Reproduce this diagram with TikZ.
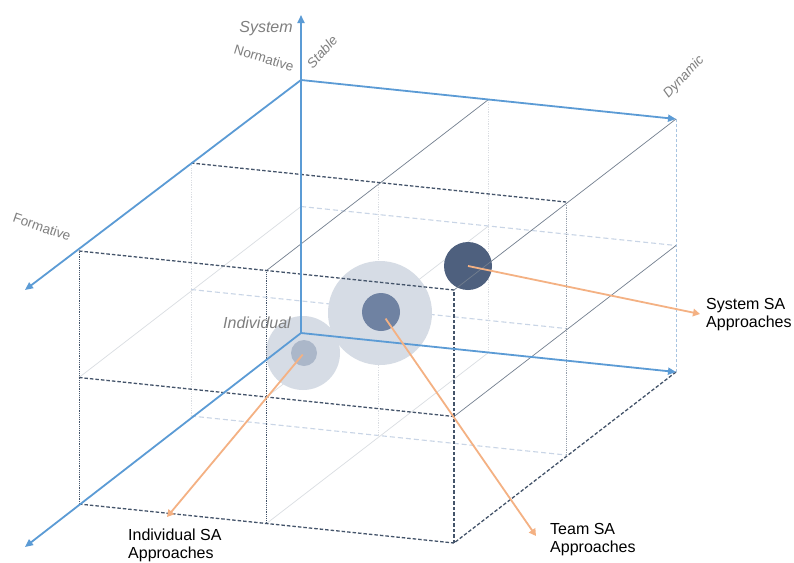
\documentclass[tikz,border=0pt]{standalone}
\usepackage{fontspec}
\setmainfont{Liberation Sans}
\usepackage{xcolor}
\usetikzlibrary{calc}
\usetikzlibrary{arrows.meta}
\definecolor{achsblau}{HTML}{5B9BD5}
\definecolor{dunkel}{HTML}{44546A}
\definecolor{orange}{HTML}{F4B183}
\definecolor{hof}{HTML}{D6DCE5}
\definecolor{hell}{HTML}{DADDE2}
\definecolor{hellblau}{HTML}{C9D5E6}
\definecolor{grau}{HTML}{7F7F7F}
\definecolor{kreisA}{HTML}{ABB7C9}
\definecolor{kreisB}{HTML}{6F82A2}
\definecolor{kreisC}{HTML}{4E607E}
\tikzset{
  Achse/.style={achsblau,line width=1.8pt,-{Triangle[length=8pt,width=7pt]}}, % für Achsen
  Kante/.style={dunkel,line width=1.3pt,dash pattern=on 3.5pt off 2pt}, % für vordere Kanten
  Punktkante/.style={dunkel,line width=1pt,dash pattern=on 1.2pt off 1pt}, % für vordere Senkrechte
  Diagonale/.style={dunkel!75,line width=0.7pt}, % für Tiefenlinien
  HellLinie/.style={hell,line width=0.7pt}, % für hintere Tiefenlinien
  HellStrich/.style={hellblau,line width=1.1pt,dash pattern=on 5pt off 3pt}, % für hintere Waagrechte
  HellPunkt/.style={hell,line width=0.8pt,dash pattern=on 1.2pt off 1.2pt}, % für hintere Senkrechte
  OPfeil/.style={orange,line width=1.8pt,-{Triangle[length=7pt,width=7.5pt]}}, % für Zuordnungspfeile
  Achsentext/.style={grau,font=\fontsize{13.5}{15}\selectfont},
  Titeltext/.style={grau,font=\fontsize{16}{18}\selectfont\itshape}
}

\begin{document}
\begin{tikzpicture}[x=1pt,y=-1pt,
font=\fontsize{16}{18}\selectfont,
>=latex
]
\useasboundingbox (0,0) rectangle (794,562);
\fill[white] (0,0) rectangle (794,562);

%Gitterpunkte P<breite><tiefe><hoehe>
\coordinate (O) at (301,333);
\foreach \j/\dx/\dy in {0/0/0,1/-110/83,2/-222/171}
 \foreach \i in {0,1,2}
  \foreach \k in {0,1,2}
   \coordinate (P\i\j\k) at ($(O)+(\dx,\dy)+\i*(187.5,19.5)+\k*(0,-126.5)$);

\coordinate (zSpitze) at (301,15);
\coordinate (olSpitze) at (25,290);
\coordinate (ulSpitze) at (25,547);

%hintere Gitterlinien
\draw[HellLinie] (P001) -- (P021);
\draw[HellLinie] (P101) -- (P121);
\draw[HellLinie] (P100) -- (P120);
\draw[HellStrich] (P001) -- (P201);
\draw[HellStrich] (P011) -- (P211);
\draw[HellStrich] (P010) -- (P210);
\draw[HellPunkt] (P100) -- (P102);
\draw[HellPunkt] (P010) -- (P012);
\draw[HellPunkt] (P110) -- (P112);
\draw[hellblau!70!achsblau,line width=0.9pt,dash pattern=on 3pt off 2pt] (P200) -- (P202);
\draw[dunkel!55,line width=0.9pt,dash pattern=on 1.2pt off 1pt] (P210) -- (P212);

%Kreise
\node[circle,fill=hof,inner sep=0pt,minimum size=74pt] (indHof) at (303,353) {};
\node[circle,fill=hof,inner sep=0pt,minimum size=104pt] (teamHof) at (380,313) {};
\node[circle,fill=kreisA,inner sep=0pt,minimum size=26pt] (ind) at (304,353) {};
\node[circle,fill=kreisB,inner sep=0pt,minimum size=38pt] (team) at (381,312) {};
\node[circle,fill=kreisC,inner sep=0pt,minimum size=48pt] (sys) at (468,266) {};

%vordere Kanten
\draw[Diagonale] (P102) -- (P122);
\draw[Diagonale] (P202) -- (P222);
\draw[Diagonale] (P201) -- (P221);
\draw[Kante] (P012) -- (P212);
\draw[Kante] (P022) -- (P222);
\draw[Kante] (P021) -- (P221);
\draw[Kante] (P020) -- (P220);
\draw[Kante] (P200) -- (P220);
\draw[Kante] (P220) -- (P222);
\draw[Punktkante] (P020) -- (P022);
\draw[Punktkante] (P120) -- (P122);

%Achsen
\draw[Achse] (O) -- (zSpitze);
\draw[Achse] (P002) -- (P202);
\draw[Achse] (P002) -- (olSpitze);
\draw[Achse] (O) -- (P200);
\draw[Achse] (O) -- (ulSpitze);

%Achsenbeschriftungen
\node[Titeltext] (systemTxt) at (266,29) {System};
\node[Titeltext] (indTxt) at (257,323) {Individual};
\node[Achsentext,rotate=-17] (normTxt) at (264,58) {Normative};
\node[Achsentext,rotate=-19] (formTxt) at (42,227) {Formative};
\node[Achsentext,rotate=48,font=\fontsize{13.5}{15}\selectfont\itshape] (stabTxt) at (322,52) {Stable};
\node[Achsentext,rotate=47,font=\fontsize{13.5}{15}\selectfont\itshape] (dynTxt) at (684,77) {Dynamic};

%Ansaetze
\node[anchor=north west,align=left,inner sep=0pt] (sysLbl) at (706,298) {System SA\\Approaches};
\node[anchor=north west,align=left,inner sep=0pt] (teamLbl) at (550,523) {Team SA\\Approaches};
\node[anchor=north west,align=left,inner sep=0pt] (indLbl) at (128,529) {Individual SA\\Approaches};

\draw[OPfeil] (sys.center) -- ($(sysLbl.north west)+(-6,16)$);
\draw[OPfeil,shorten <=8pt] (team.center) -- ($(teamLbl.north west)+(-14,13)$);
\draw[OPfeil,shorten <=2pt] (ind.center) -- ($(indLbl.north west)+(39,-12)$);

\end{tikzpicture}
\end{document}
